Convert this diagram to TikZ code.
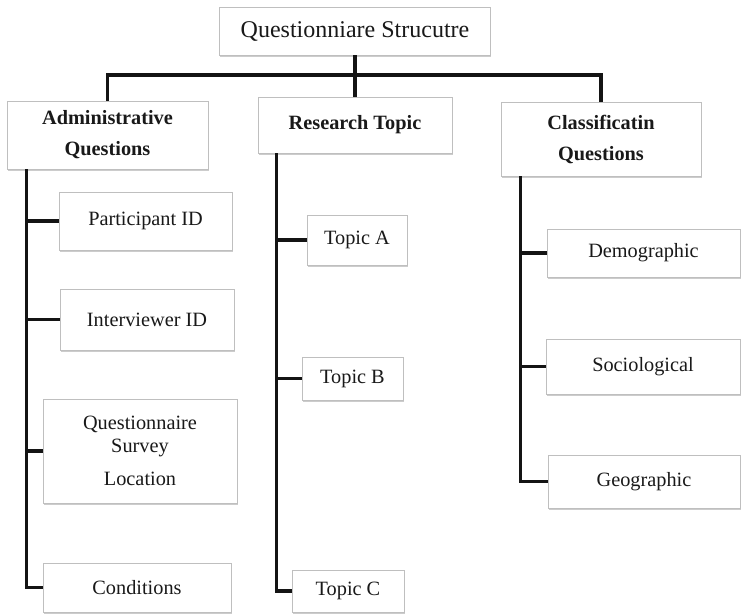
\documentclass[tikz,border=0pt]{standalone}
\usepackage{fontspec}
\setmainfont{Liberation Serif}
\usetikzlibrary{shadows}
\begin{document}
\begin{tikzpicture}[x=1pt,y=-1pt,
  box/.style={draw=gray!50, line width=0.9pt, fill=white, inner sep=0pt,
    align=center, text=black!90,
    drop shadow={opacity=0.4, shadow xshift=0.8pt, shadow yshift=-1.8pt, fill=gray}},
  leaf/.style={box, font=\fontsize{20.3}{23}\selectfont},
  head/.style={box, font=\fontsize{20.3}{31}\selectfont\bfseries},
  conn/.style={line width=3.3pt, draw=black!92}]
\useasboundingbox (0,0) rectangle (744,614);

% root and first level
\node[box, font=\fontsize{24}{28}\selectfont, minimum width=271pt, minimum height=48pt] (root) at (355,31) {Questionniare Strucutre};
\node[head, minimum width=201pt, minimum height=68pt] (admin) at (107.5,135) {Administrative\\Questions};
\node[head, minimum width=194pt, minimum height=56pt] (research) at (355,125) {Research Topic};
\node[head, minimum width=200pt, minimum height=74pt] (class) at (601,139) {Classificatin\\Questions};

% administrative questions
\node[leaf, minimum width=173pt, minimum height=58pt] (part) at (145.5,221) {Participant ID};
\node[leaf, minimum width=174pt, minimum height=61pt] (inter) at (147,319.5) {Interviewer ID};
\node[leaf, minimum width=194pt, minimum height=104pt] (quest) at (140,451) {Questionnaire\\Survey\\[10pt]Location};
\node[leaf, minimum width=188pt, minimum height=49pt] (cond) at (137,587.5) {Conditions};

% research topics
\node[leaf, minimum width=100pt, minimum height=50pt] (topA) at (357,240) {Topic A};
\node[leaf, minimum width=101pt, minimum height=43pt] (topB) at (352.5,378.5) {Topic B};
\node[leaf, minimum width=112pt, minimum height=42pt] (topC) at (348,591) {Topic C};

% classification questions
\node[leaf, minimum width=193pt, minimum height=48pt] (demo) at (643.5,253) {Demographic};
\node[leaf, minimum width=194pt, minimum height=55pt] (socio) at (643,366.5) {Sociological};
\node[leaf, minimum width=192pt, minimum height=53pt] (geo) at (644,481.5) {Geographic};

% top-level connectors
\coordinate (hub) at (355,75);
\draw[conn] (admin.north) |- (hub) -| (class.north);
\draw[conn] (root.south) -- (research.north);

% spines
\coordinate (aspine) at ([xshift=20pt]admin.south west);
\coordinate (rspine) at ([xshift=19pt]research.south west);
\coordinate (cspine) at ([xshift=20pt]class.south west);

\draw[conn] (aspine) |- (cond.west);
\draw[conn] (part.west) -- (part.west -| aspine);
\draw[conn] (inter.west) -- (inter.west -| aspine);
\draw[conn] (quest.west) -- (quest.west -| aspine);

\draw[conn] (rspine) |- (topC.west);
\draw[conn] (topA.west) -- (topA.west -| rspine);
\draw[conn] (topB.west) -- (topB.west -| rspine);

\draw[conn] (cspine) |- (geo.west);
\draw[conn] (demo.west) -- (demo.west -| cspine);
\draw[conn] (socio.west) -- (socio.west -| cspine);
\end{tikzpicture}
\end{document}
